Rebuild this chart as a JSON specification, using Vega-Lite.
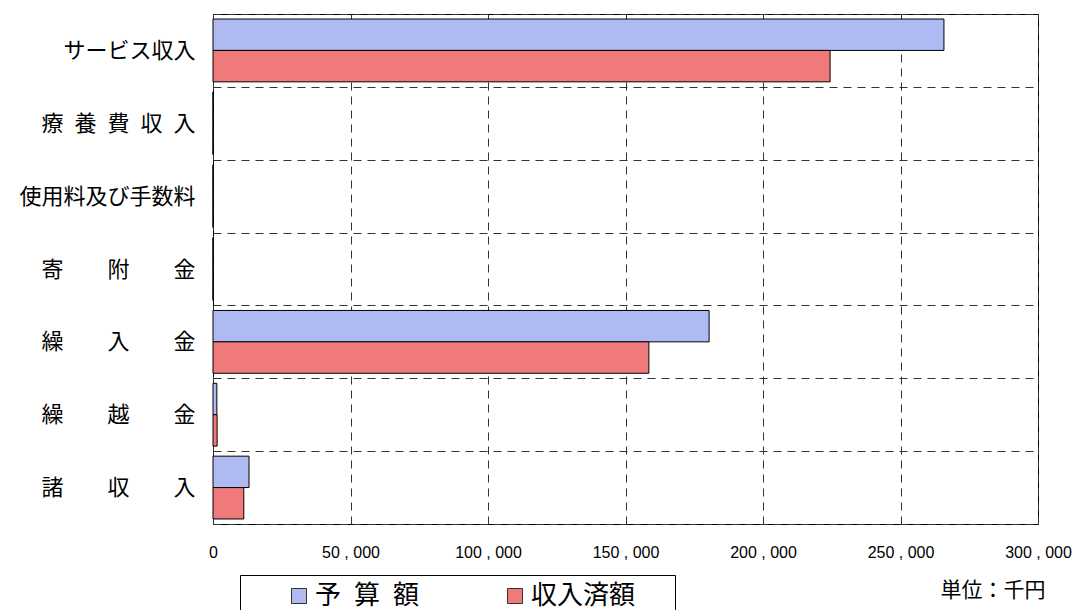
{
  "$schema": "https://vega.github.io/schema/vega-lite/v6.json",
  "width": 825,
  "height": 510,
  "autosize": {"type": "none"},
  "padding": {"left": 213, "top": 14, "right": 42, "bottom": 86},
  "background": "white",
  "config": {
    "font": "Noto Sans CJK JP",
    "view": {"stroke": "black", "strokeWidth": 1}
  },
  "data": {
    "values": [
      {"科目": "サービス収入", "区分": "予算額", "金額": 265800},
      {"科目": "サービス収入", "区分": "収入済額", "金額": 224400},
      {"科目": "療\u2002養\u2002費\u2002収\u2002入", "区分": "予算額", "金額": 0},
      {"科目": "療\u2002養\u2002費\u2002収\u2002入", "区分": "収入済額", "金額": 0},
      {"科目": "使用料及び手数料", "区分": "予算額", "金額": 0},
      {"科目": "使用料及び手数料", "区分": "収入済額", "金額": 0},
      {"科目": "寄　　附　　金", "区分": "予算額", "金額": 0},
      {"科目": "寄　　附　　金", "区分": "収入済額", "金額": 0},
      {"科目": "繰　　入　　金", "区分": "予算額", "金額": 180400},
      {"科目": "繰　　入　　金", "区分": "収入済額", "金額": 158500},
      {"科目": "繰　　越　　金", "区分": "予算額", "金額": 1400},
      {"科目": "繰　　越　　金", "区分": "収入済額", "金額": 1500},
      {"科目": "諸　　収　　入", "区分": "予算額", "金額": 13100},
      {"科目": "諸　　収　　入", "区分": "収入済額", "金額": 11200}
    ]
  },
  "mark": {"type": "bar", "stroke": "black", "strokeWidth": 1},
  "encoding": {
    "y": {
      "field": "科目",
      "type": "nominal",
      "sort": ["サービス収入", "療\u2002養\u2002費\u2002収\u2002入", "使用料及び手数料", "寄　　附　　金", "繰　　入　　金", "繰　　越　　金", "諸　　収　　入"],
      "scale": {"paddingInner": 0, "paddingOuter": 0},
      "axis": {
        "title": null,
        "tickBand": "extent",
        "grid": true,
        "gridDash": [8, 6],
        "gridColor": "#333333",
        "gridWidth": 1,
        "gridOpacity": 1,
        "ticks": false,
        "domain": false,
        "labelFontSize": 22,
        "labelColor": "black",
        "labelPadding": 18,
        "labelLimit": 300
      }
    },
    "x": {
      "field": "金額",
      "type": "quantitative",
      "scale": {"domain": [0, 300000], "nice": false},
      "axis": {
        "title": "単位：千円",
        "titleFont": "Noto Sans CJK JP",
        "titleFontSize": 21,
        "titleFontWeight": "normal",
        "titleColor": "black",
        "titleAlign": "right",
        "titleX": 832,
        "titlePadding": 19,
        "values": [0, 50000, 100000, 150000, 200000, 250000, 300000],
        "format": ",d",
        "labelExpr": "replace(datum.label, ',', ' , ')",
        "grid": true,
        "gridDash": [8, 6],
        "gridColor": "#333333",
        "gridWidth": 1,
        "gridOpacity": 1,
        "ticks": false,
        "domain": false,
        "labelFont": "Liberation Sans",
        "labelFontSize": 16,
        "labelColor": "black",
        "labelPadding": 20,
        "labelFlush": false
      }
    },
    "yOffset": {
      "field": "区分",
      "type": "nominal",
      "sort": ["予算額", "収入済額"],
      "scale": {"paddingInner": 0, "paddingOuter": 0.16}
    },
    "color": {
      "field": "区分",
      "type": "nominal",
      "sort": ["予算額", "収入済額"],
      "scale": {"domain": ["予算額", "収入済額"], "range": ["#b0baf2", "#f07a7a"]},
      "legend": {
        "title": null,
        "orient": "none",
        "legendX": 27,
        "legendY": 561,
        "direction": "horizontal",
        "strokeColor": "black",
        "fillColor": "white",
        "padding": 8,
        "symbolType": "square",
        "symbolSize": 225,
        "symbolStrokeColor": "#333333",
        "symbolStrokeWidth": 1,
        "symbolOpacity": 1,
        "symbolOffset": 38,
        "labelFontSize": 26,
        "labelColor": "black",
        "labelOffset": 3,
        "columnPadding": 44,
        "labelExpr": "datum.label == '予算額' ? '予\u2002算\u2002額' : '収入済額\u3000\u2009\u200b'"
      }
    }
  }
}
